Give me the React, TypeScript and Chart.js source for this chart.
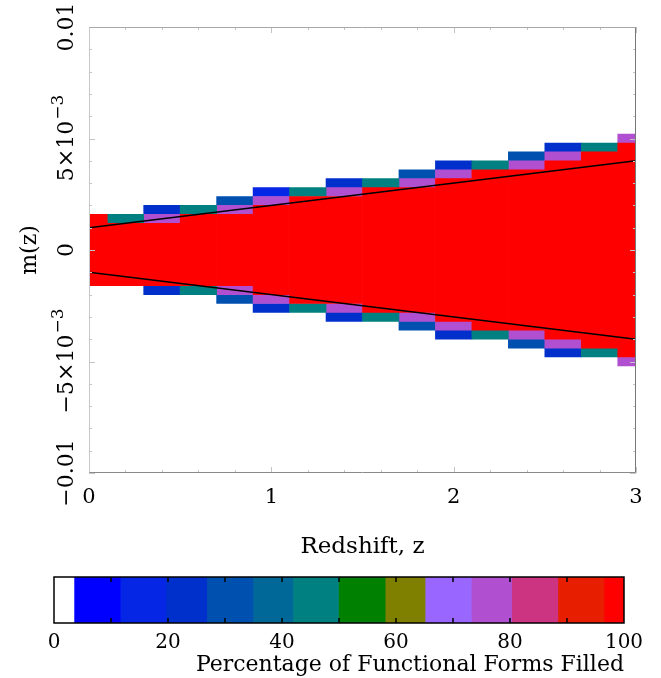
import React, { useEffect, useRef } from 'react';
import { Chart, registerables } from 'chart.js';

Chart.register(...registerables);

// ---------- data ----------
const zBins = [0, 0.2, 0.4, 0.6, 0.8, 1.0, 1.2, 1.4, 1.6, 1.8, 2.0, 2.2, 2.4, 2.6, 2.8, 3.0];
const redTop = [0.0016, 0.0012, 0.0012, 0.0016, 0.0016, 0.002, 0.0024, 0.0024, 0.0028, 0.0028, 0.0032, 0.0036, 0.0036, 0.004, 0.0044, 0.0048];
const redBottom = [-0.0016, -0.0016, -0.0016, -0.0016, -0.0016, -0.002, -0.0024, -0.0024, -0.0028, -0.0028, -0.0032, -0.0036, -0.0036, -0.004, -0.0044, -0.0048];

// [z, low, high]
const tealCells = [
  [0.2, 0.0012, 0.0016], [0.6, 0.0016, 0.002], [0.6, -0.002, -0.0016],
  [1.2, 0.0024, 0.0028], [1.2, -0.0028, -0.0024], [1.6, 0.0028, 0.0032], [1.6, -0.0032, -0.0028],
  [2.2, 0.0036, 0.004], [2.2, -0.004, -0.0036], [2.8, 0.0044, 0.0048], [2.8, -0.0048, -0.0044],
];
const purpleCells = [
  [0.4, 0.0012, 0.0016], [0.8, 0.0016, 0.002], [0.8, -0.002, -0.0016],
  [1.0, 0.002, 0.0024], [1.0, -0.0024, -0.002], [1.4, 0.0024, 0.0028], [1.4, -0.0028, -0.0024],
  [1.8, 0.0028, 0.0032], [1.8, -0.0032, -0.0028], [2.0, 0.0032, 0.0036], [2.0, -0.0036, -0.0032],
  [2.4, 0.0036, 0.004], [2.4, -0.004, -0.0036], [2.6, 0.004, 0.0044], [2.6, -0.0044, -0.004],
  [3.0, 0.0048, 0.0052], [3.0, -0.0052, -0.0048],
];
const blueCells = [
  [0.4, 0.0016, 0.002], [0.4, -0.002, -0.0016], [1.0, -0.0028, -0.0024],
  [1.4, 0.0028, 0.0032], [1.4, -0.0032, -0.0028], [2.0, 0.0036, 0.004], [2.0, -0.004, -0.0036],
  [2.6, 0.0044, 0.0048], [2.6, -0.0048, -0.0044],
];
const brightBlueCells = [[1.0, 0.0024, 0.0028]];
const steelBlueCells = [
  [0.8, 0.002, 0.0024], [0.8, -0.0024, -0.002], [1.8, 0.0032, 0.0036], [1.8, -0.0036, -0.0032],
  [2.4, 0.004, 0.0044], [2.4, -0.0044, -0.004],
];

const lineZ = [0, 3];
const upperLineM = [0.001, 0.004];
const lowerLineM = [-0.001, -0.004];

const yTickValues = [-0.01, -0.005, 0, 0.005, 0.01];
const yTickBase = ['\u22120.01', '\u22125\u00d710', '0', '5\u00d710', '0.01'];
const yTickExp = ['', '\u22123', '', '\u22123', ''];

// colour bar
const cbEdges = [0, 3.5, 11.6, 19.6, 26.8, 34.9, 41.9, 49.9, 58.1, 65.1, 73.2, 80.3, 88.4, 96.5, 100];
const cbColors = ['#ffffff', '#0000ff', '#0626e6', '#0030cc', '#0050b0', '#006898', '#008080', '#008000', '#808000', '#9966ff', '#b050d0', '#cc3380', '#e81e00', '#ff0000'];
const cbTickMarks = [10, 20, 30, 40, 50, 60, 70, 80, 90];

const RED = '#ff0000';
const TEAL = '#008080';
const PURPLE = '#b050d0';
const BLUE = '#0030cc';
const BRIGHT_BLUE = '#0626e6';
const STEEL_BLUE = '#0050b0';

const FONT = "'DejaVu Serif', serif";

function MainChart() {
  const ref = useRef<HTMLCanvasElement>(null);
  useEffect(() => {
    const toCells = (arr: number[][]) => arr.map(([z, lo, hi]) => ({ x: z, y: [lo, hi] }));
    const barDs = (label: string, color: string, data: any[]) => ({
      type: 'bar' as const,
      label,
      data,
      backgroundColor: color,
      borderWidth: 0,
      grouped: false,
      barPercentage: 1,
      categoryPercentage: 1,
      clip: 0,
      order: 2,
    });
    const lineDs = (ys: number[]) => ({
      type: 'line' as const,
      data: lineZ.map((z, i) => ({ x: z, y: ys[i] })),
      borderColor: '#000000',
      borderWidth: 1.6,
      pointRadius: 0,
      fill: false,
      clip: 0,
      order: 0,
    });
    const datasets: any[] = [
      barDs('100%', RED, zBins.map((z, i) => ({ x: z, y: [redBottom[i], redTop[i]] }))),
      barDs('teal', TEAL, toCells(tealCells)),
      barDs('purple', PURPLE, toCells(purpleCells)),
      barDs('blue', BLUE, toCells(blueCells)),
      barDs('bright', BRIGHT_BLUE, toCells(brightBlueCells)),
      barDs('steel', STEEL_BLUE, toCells(steelBlueCells)),
      lineDs(upperLineM),
      lineDs(lowerLineM),
    ];

    const framePlugin = {
      id: 'frame',
      afterDraw(chart: any) {
        const { ctx, chartArea: a, scales } = chart;
        const xs = scales.x;
        const ys = scales.y;
        ctx.save();
        ctx.lineWidth = 1;
        // minor/major ticks (faint)
        ctx.strokeStyle = '#c4c4c4';
        for (let k = 0; k <= 15; k++) {
          const v = k * 0.2;
          const px = Math.round(xs.getPixelForValue(v)) + 0.5;
          const len = k % 5 === 0 ? 6 : 3;
          ctx.beginPath();
          ctx.moveTo(px, a.bottom); ctx.lineTo(px, a.bottom - len);
          ctx.moveTo(px, a.top); ctx.lineTo(px, a.top + len);
          ctx.stroke();
        }
        for (let k = -10; k <= 10; k++) {
          const v = k * 0.001;
          const py = Math.round(ys.getPixelForValue(v)) + 0.5;
          const len = k % 5 === 0 ? 6 : 3;
          ctx.beginPath();
          ctx.moveTo(a.left, py); ctx.lineTo(a.left + len, py);
          ctx.moveTo(a.right, py); ctx.lineTo(a.right - len, py);
          ctx.stroke();
        }
        // frame
        const l = Math.round(a.left) + 0.5, r = Math.round(a.right) - 0.5;
        const t = Math.round(a.top) + 0.5, b = Math.round(a.bottom) - 0.5;
        const seg = (c: string, x1: number, y1: number, x2: number, y2: number) => {
          ctx.strokeStyle = c; ctx.beginPath(); ctx.moveTo(x1, y1); ctx.lineTo(x2, y2); ctx.stroke();
        };
        seg('#c8c8c8', l, t, l, b);
        seg('#a8a8a8', l, t, r, t);
        seg('#777777', r, t, r, b);
        seg('#8a8a8a', l, b, r, b);

        // rotated y tick labels with superscripts
        ctx.fillStyle = '#000000';
        ctx.textBaseline = 'alphabetic';
        ctx.textAlign = 'left';
        yTickValues.forEach((v, i) => {
          const py = ys.getPixelForValue(v);
          ctx.save();
          ctx.translate(73, py);
          ctx.rotate(-Math.PI / 2);
          ctx.font = `22px ${FONT}`;
          const wb = ctx.measureText(yTickBase[i]).width;
          ctx.font = `17px ${FONT}`;
          const we = yTickExp[i] ? ctx.measureText(yTickExp[i]).width : 0;
          const start = -(wb + we) / 2;
          ctx.font = `22px ${FONT}`;
          ctx.fillText(yTickBase[i], start, 0);
          if (yTickExp[i]) {
            ctx.font = `17px ${FONT}`;
            ctx.fillText(yTickExp[i], start + wb + 1, -10);
          }
          ctx.restore();
        });
        ctx.restore();
      },
    };

    const chart = new Chart(ref.current as HTMLCanvasElement, {
      type: 'bar',
      data: { datasets },
      options: {
        animation: false,
        responsive: false,
        maintainAspectRatio: false,
        layout: { padding: { left: 0, right: 25, top: 27, bottom: 0 } },
        plugins: { legend: { display: false }, tooltip: { enabled: false } },
        scales: {
          x: {
            type: 'linear',
            min: 0,
            max: 3,
            offset: false,
            grid: { display: false, drawTicks: false, offset: false },
            border: { display: false },
            ticks: { stepSize: 1, color: '#000000', font: { family: FONT, size: 21 }, padding: 12, maxRotation: 0 },
            title: { display: true, text: 'Redshift, z', color: '#000000', font: { family: FONT, size: 23 }, padding: { top: 0, bottom: 4 } },
            afterFit: (s: any) => { s.height = 92; },
          },
          y: {
            type: 'linear',
            min: -0.01,
            max: 0.01,
            grid: { display: false, drawTicks: false },
            border: { display: false },
            ticks: { display: false },
            title: { display: true, text: 'm(z)', color: '#000000', font: { family: FONT, size: 22 }, padding: { top: 17, bottom: 0 } },
            afterFit: (s: any) => { s.width = 89; },
          },
        },
      } as any,
      plugins: [framePlugin],
    });
    return () => chart.destroy();
  }, []);
  return <canvas ref={ref} width={661} height={565} style={{ position: 'absolute', left: 0, top: 0, width: 661, height: 565 }} />;
}

function ColorBar() {
  const ref = useRef<HTMLCanvasElement>(null);
  useEffect(() => {
    const datasets = cbColors.map((c, i) => ({
      data: [[cbEdges[i], cbEdges[i + 1]]],
      backgroundColor: c,
      borderWidth: 0,
      grouped: false,
      barPercentage: 1,
      categoryPercentage: 1,
    }));
    const cbPlugin = {
      id: 'cbframe',
      afterDraw(chart: any) {
        const { ctx, chartArea: a, scales } = chart;
        ctx.save();
        ctx.strokeStyle = '#000000';
        ctx.lineWidth = 1.5;
        cbTickMarks.forEach((v) => {
          const px = scales.x.getPixelForValue(v);
          ctx.beginPath();
          ctx.moveTo(px, a.top); ctx.lineTo(px, a.top + 5);
          ctx.moveTo(px, a.bottom); ctx.lineTo(px, a.bottom - 5);
          ctx.stroke();
        });
        ctx.strokeRect(a.left, a.top, a.right - a.left, a.bottom - a.top);
        ctx.restore();
      },
    };
    const chart = new Chart(ref.current as HTMLCanvasElement, {
      type: 'bar',
      data: { labels: [''], datasets },
      options: {
        indexAxis: 'y',
        animation: false,
        responsive: false,
        maintainAspectRatio: false,
        layout: { padding: { left: 54, right: 37, top: 12, bottom: 0 } },
        plugins: { legend: { display: false }, tooltip: { enabled: false } },
        scales: {
          y: { display: false },
          x: {
            type: 'linear',
            min: 0,
            max: 100,
            grid: { display: false, drawTicks: false },
            border: { display: false },
            ticks: { stepSize: 20, color: '#000000', font: { family: FONT, size: 20 }, padding: 8, maxRotation: 0 },
            title: { display: true, text: 'Percentage of Functional Forms Filled', align: 'end', color: '#000000', font: { family: FONT, size: 22 }, padding: { top: 0, bottom: 0 } },
            afterFit: (s: any) => { s.height = 55; },
          },
        },
      } as any,
      plugins: [cbPlugin],
    });
    return () => chart.destroy();
  }, []);
  return <canvas ref={ref} width={661} height={113} style={{ position: 'absolute', left: 0, top: 565, width: 661, height: 113 }} />;
}

export default function App() {
  return (
    <div style={{ position: 'absolute', left: 0, top: 0, width: 661, height: 678, background: '#ffffff' }}>
      <MainChart />
      <ColorBar />
    </div>
  );
}
